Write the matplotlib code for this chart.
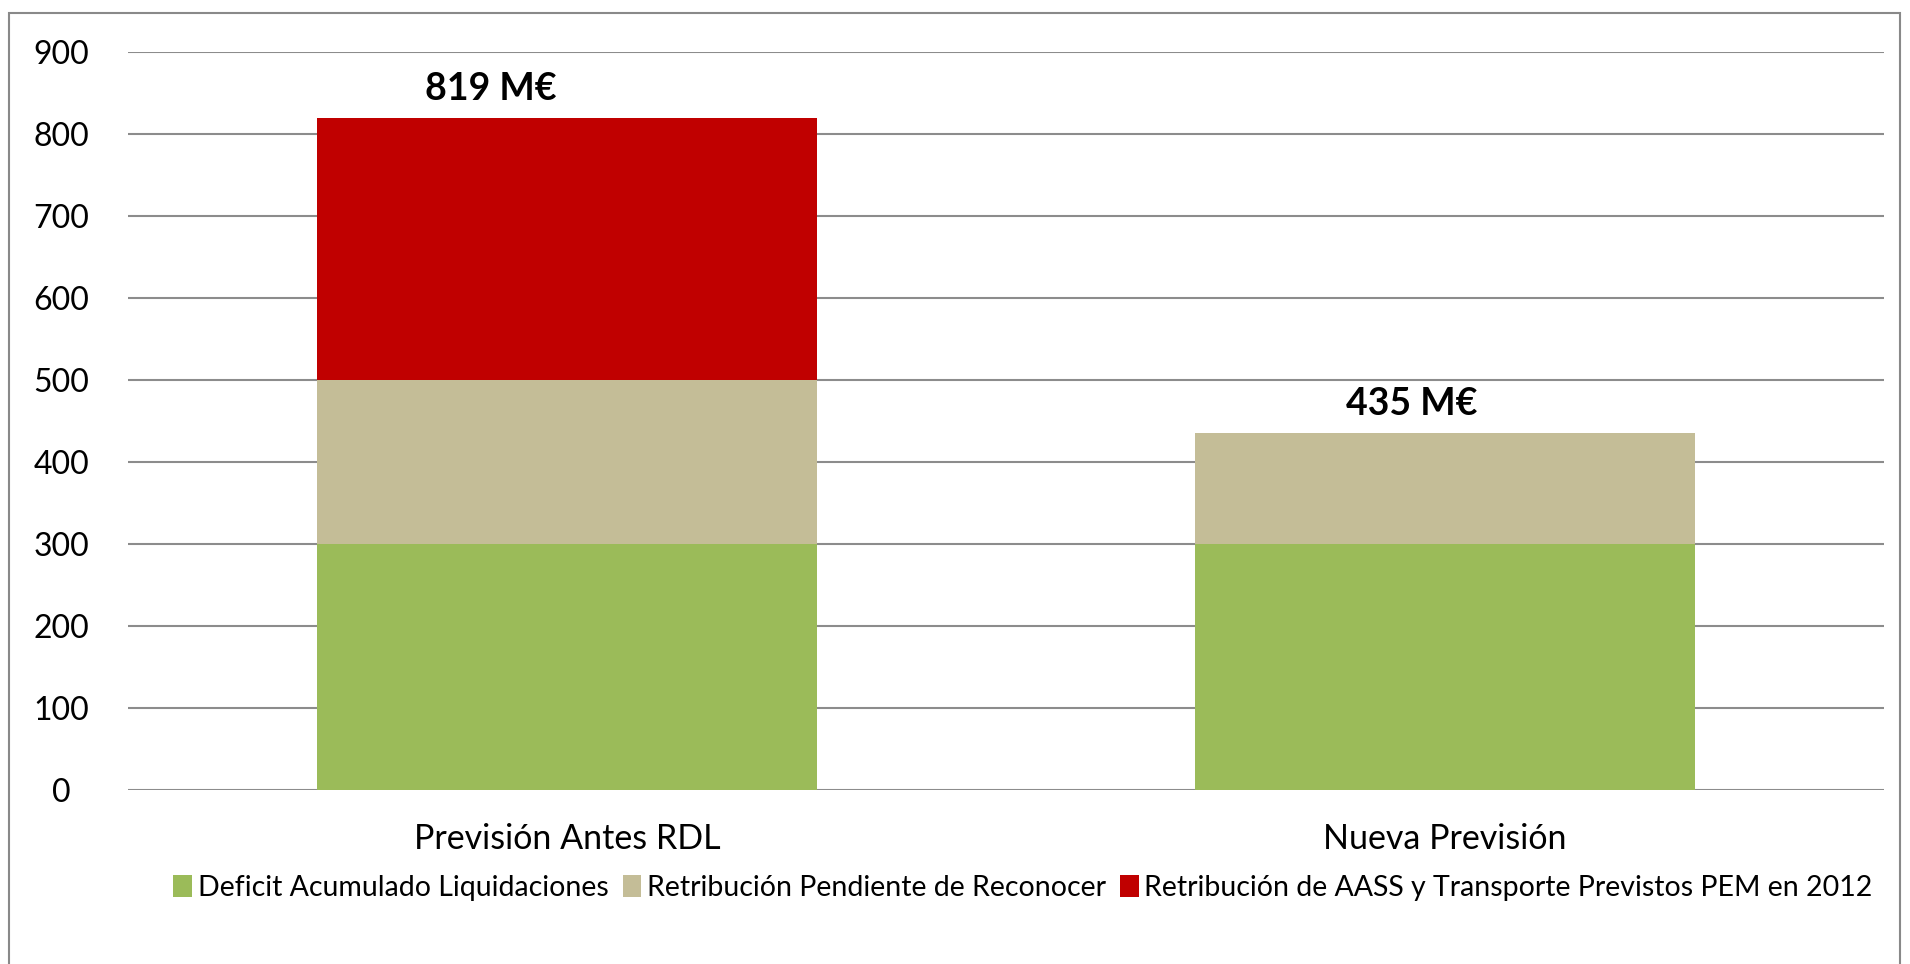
import numpy as np
import matplotlib
matplotlib.use("Agg")
import matplotlib.pyplot as plt
from matplotlib.patches import Rectangle

plt.rcParams["font.family"] = ["Lato", "DejaVu Sans"]

categories = ["Previsión Antes RDL", "Nueva Previsión"]
series_names = [
    "Deficit Acumulado Liquidaciones",
    "Retribución Pendiente de Reconocer",
    "Retribución de AASS y Transporte Previstos PEM en 2012",
]
deficit = [300, 300]
pendiente = [200, 135]
aass = [319, 0]
totals = ["819 M€", "435 M€"]
yticks = [0, 100, 200, 300, 400, 500, 600, 700, 800, 900]

colors = ["#9BBB59", "#C4BD97", "#C00000"]

fg = plt.figure(figsize=(19.1, 9.64), dpi=100)
ax = fg.add_axes([128 / 1910, 174 / 964, 1756 / 1910, 738 / 964])

x = np.arange(len(categories))
width = 0.57
bottom = np.zeros(len(categories))
handles = []
for vals, name, col in zip([deficit, pendiente, aass], series_names, colors):
    vals = np.array(vals, dtype=float)
    b = ax.bar(x, vals, width, bottom=bottom, color=col, label=name, zorder=3)
    handles.append(b)
    bottom = bottom + vals

# total labels above each stack
offsets = [-0.087, -0.038]
for i in range(len(categories)):
    ax.text(
        x[i] + offsets[i],
        bottom[i] + 22,
        totals[i],
        ha="center",
        va="baseline",
        fontsize=27,
        fontweight="bold",
        color="black",
        zorder=4,
    )

ax.set_xlim(-0.5, len(categories) - 0.5)
ax.set_ylim(0, 900)
ax.set_yticks(yticks)
ax.set_yticklabels([str(v) for v in yticks])
for lab in ax.get_yticklabels():
    lab.set_horizontalalignment("center")
ax.set_xticks(x)
ax.set_xticklabels(categories)
ax.tick_params(axis="y", length=0, pad=48, labelsize=23)
ax.tick_params(axis="x", length=0, pad=24, labelsize=24.5)
ax.grid(axis="y", color="#8C8C8C", linewidth=1.5, zorder=1)
ax.set_axisbelow(True)
for s in ax.spines.values():
    s.set_visible(False)

fg.legend(
    handles=handles,
    loc="center",
    bbox_to_anchor=(1023 / 1910, 76 / 964),
    ncol=3,
    frameon=False,
    fontsize=20.5,
    handlelength=0.65,
    handleheight=0.8,
    handletextpad=0.2,
    columnspacing=0.5,
    borderaxespad=0,
)

# outer chart border (right and bottom edges fall outside the image)
fg.patches.append(
    Rectangle(
        (9 / 1910, -0.01),
        0.99,
        (964 - 13) / 964 + 0.01,
        transform=fg.transFigure,
        fill=False,
        edgecolor="#898989",
        linewidth=1.5,
    )
)

fg.savefig("out.png", dpi=100)
plt.close(fg)
